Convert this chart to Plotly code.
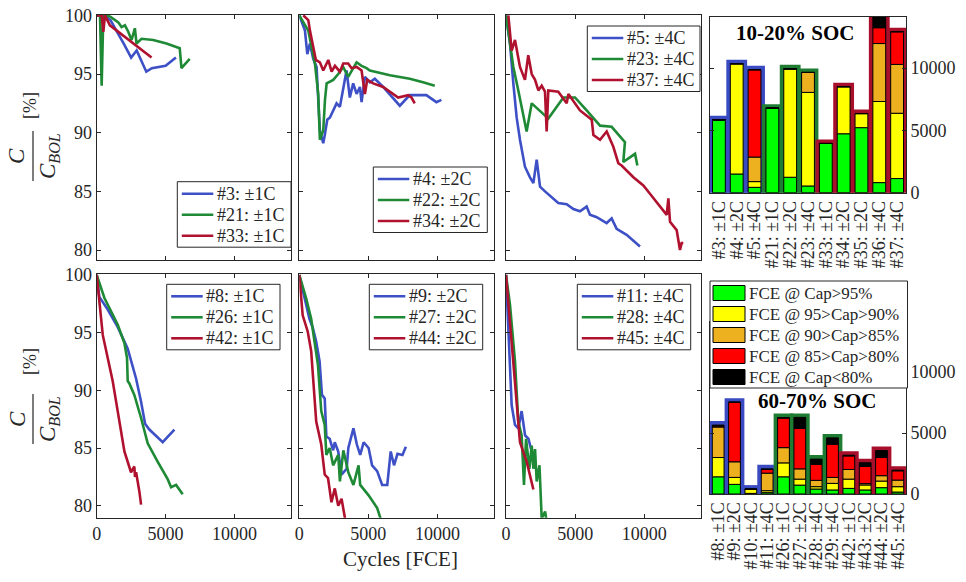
import numpy as np
import plotly.graph_objects as go

FONT = "Liberation Serif"
AX = "#262626"
BLUE, GREEN, RED = "#3D50C6", "#1F8A36", "#B0112E"
BG = {"blue": "#3A4BC2", "green": "#1E7D32", "red": "#A80F2B"}

# ---------------- capacity fade data (cycles [FCE], capacity [%]) ----------------
c3_x = [0, 500, 1000, 1500, 2000, 2500, 2900, 3600, 4000, 5000, 5750]
c3_y = [100, 100, 99.6, 98.6, 97.5, 96.4, 97.0, 95.2, 95.5, 95.7, 96.4]
c21_x = [0, 240, 360, 480, 960, 1570, 1800, 2050, 2290, 2530, 2770, 2890, 3250, 4100, 5060, 6025, 6150, 6750]
c21_y = [100, 100, 94.0, 100, 99.9, 99.4, 99.0, 99.15, 98.6, 97.9, 98.9, 97.6, 98.0, 97.9, 97.6, 97.2, 95.5, 96.3]
c33_x = [0, 360, 480, 600, 960, 1450, 3980]
c33_y = [100, 100, 98.6, 100, 99.15, 98.7, 96.4]

c4_x = [0, 410, 580, 770, 1010, 1250, 1490, 1735, 1860, 2025, 2220, 2460, 2700, 2940, 3180, 3420, 3660, 3900,
        4150, 4390, 4510, 4750, 5110, 5470, 6070, 6800, 7280, 8000, 9200, 9930, 10290]
c4_y = [100, 98.7, 96.7, 97.6, 96.3, 95.6, 90.2, 89.1, 89.9, 91.1, 91.3, 91.9, 92.5, 92.2, 93.9, 95.3, 93.0, 94.2,
        93.3, 93.9, 92.6, 94.75, 94.3, 94.6, 93.9, 92.9, 92.3, 93.2, 93.2, 92.6, 92.8]
c22_x = [0, 650, 1130, 1370, 1490, 1735, 1860, 1980, 2460, 2820, 3180, 3540, 4150, 4510, 4870, 5110, 6560, 8000, 8960, 9810]
c22_y = [100, 98.7, 95.9, 93.3, 89.4, 90.2, 92.8, 94.2, 94.5, 95.0, 95.6, 94.75, 96.0, 95.7, 95.5, 95.3, 94.9, 94.6, 94.3, 94.0]
c34_x = [290, 650, 770, 1010, 1200, 1490, 1735, 2100, 2340, 2580, 2940, 3180, 3540, 3780, 4150, 4510, 4750, 4920,
         5350, 6070, 6560, 7160, 7880, 8120, 8360]
c34_y = [100, 99.6, 98.7, 97.3, 96.2, 96.0, 95.3, 96.2, 95.2, 95.7, 95.2, 95.9, 95.9, 95.5, 95.6, 95.3, 93.3, 94.5,
         94.2, 93.9, 93.5, 93.0, 93.2, 93.0, 92.5]

c5_x = [0, 290, 530, 770, 1010, 1370, 1735, 1980, 2220, 2460, 2820, 3300, 3780, 4390, 4870, 5350, 5830, 6070,
        6560, 7280, 7640, 8000, 8720, 9690]
c5_y = [100, 97.6, 94.2, 91.3, 89.4, 87.1, 86.2, 85.7, 87.7, 85.4, 85.0, 84.5, 84.0, 83.9, 83.5, 83.3, 83.7, 83.0,
        82.8, 82.3, 82.7, 81.8, 81.3, 80.3]
c23_x = [0, 530, 890, 1130, 1490, 1860, 3060, 4150, 4990, 5830, 6800, 7640, 8600, 8480, 9330, 9500]
c23_y = [100, 95.6, 93.6, 92.2, 90.1, 92.5, 91.2, 93.0, 93.0, 91.9, 90.6, 90.5, 89.2, 87.5, 88.2, 87.2]
c37_x = [170, 410, 650, 1010, 1370, 1610, 1860, 2100, 2340, 2580, 2820, 2940, 3060, 3780, 4390, 4510, 5350, 6200,
         6320, 6800, 7280, 7760, 8120, 8360, 9210, 9930, 10410, 11130, 11620, 11740, 11860, 12340, 12580, 12700, 12820]
c37_y = [100, 97.0, 97.9, 95.6, 94.5, 96.6, 95.0, 94.5, 93.6, 94.0, 93.5, 90.1, 93.6, 93.5, 92.5, 93.3, 91.9, 91.1,
         89.8, 89.4, 90.1, 88.8, 87.4, 87.2, 86.2, 85.5, 84.8, 83.7, 83.0, 84.4, 82.4, 81.7, 80.0, 80.6, 80.6]

c8_x = [0, 190, 800, 1520, 2250, 2860, 3220, 3510, 3820, 4790, 5640]
c8_y = [100, 98.1, 97.0, 95.5, 93.6, 91.0, 89.0, 87.1, 86.6, 85.5, 86.6]
c26_x = [0, 560, 1520, 2010, 2200, 2250, 2370, 2490, 2730, 3220, 3700, 4430, 5150, 5400, 5760, 6240]
c26_y = [100, 98.0, 95.7, 94.1, 92.8, 90.8, 90.6, 90.3, 89.6, 87.6, 85.4, 83.8, 82.3, 81.6, 81.8, 81.0]
c42_x = [0, 440, 1160, 1520, 2010, 2490, 2730, 2780, 2860, 3100, 3220]
c42_y = [100, 94.8, 90.8, 88.2, 84.7, 82.9, 83.4, 82.5, 82.9, 81.2, 80.1]

c9_x = [0, 370, 735, 980, 1225, 1470, 1640, 1840, 1960, 2200, 2450, 2570, 2820, 3060, 3430, 3550, 3920, 4170,
        4410, 4660, 5020, 5270, 5640, 6000, 6370, 6620, 6860, 7110, 7470, 7720]
c9_y = [100, 98.0, 96.2, 95.4, 94.2, 92.5, 89.6, 89.3, 86.0, 85.8, 84.8, 85.5, 84.7, 82.7, 83.2, 85.0, 86.7, 85.3,
        84.4, 85.5, 85.0, 83.5, 83.0, 81.8, 81.8, 84.7, 83.5, 84.5, 84.4, 85.1]
c27_x = [0, 490, 860, 1100, 1350, 1590, 1840, 1960, 2200, 2450, 2820, 2940, 3190, 3550, 3920, 4290, 4410, 5020, 5640, 5880]
c27_y = [100, 98.0, 96.2, 94.2, 92.2, 88.2, 87.0, 84.4, 85.0, 83.5, 84.4, 82.1, 84.8, 82.9, 81.8, 83.5, 81.8, 80.9, 79.8, 78.9]
c44_x = [0, 245, 610, 860, 1225, 1590, 1840, 2080, 2330, 2570, 2820, 3060, 3310]
c44_y = [100, 96.5, 95.1, 93.4, 87.3, 85.3, 82.7, 82.4, 80.3, 81.5, 80.0, 80.6, 78.9]

c11_x = [0, 170, 410, 650, 890, 1130, 1380, 1620, 1860, 2100]
c11_y = [100, 94.8, 88.7, 87.0, 86.7, 88.2, 86.1, 85.8, 84.7, 84.4]
c28_x = [0, 290, 650, 890, 1130, 1300, 1450, 1690, 1860, 1980, 2100, 2220, 2420, 2580, 2830, 2900]
c28_y = [100, 97.4, 92.5, 87.3, 86.1, 81.8, 85.8, 83.2, 85.2, 83.2, 84.9, 82.1, 83.5, 78.9, 79.5, 78.9]
c45_x = [0, 290, 650, 1010, 1500, 1980]
c45_y = [100, 96.0, 90.8, 85.5, 83.8, 81.4]

# ---------------- FCE bar data ----------------
seg_names = ["FCE @ Cap>95%", "FCE @ 95>Cap>90%", "FCE @ 90>Cap>85%", "FCE @ 85>Cap>80%", "FCE @ Cap<80%"]
seg_colors = ["#00FF00", "#FFFF00", "#EDB120", "#FF0000", "#000000"]

top_labels = ["#3: ±1C", "#4: ±2C", "#5: ±4C", "#21: ±1C", "#22: ±2C", "#23: ±4C",
              "#33: ±1C", "#34: ±2C", "#35: ±2C", "#36: ±4C", "#37: ±4C"]
top_groups = ["blue", "blue", "blue", "green", "green", "green", "red", "red", "red", "red", "red"]
top_green = [5850, 1500, 430, 6780, 1240, 540, 3950, 4730, 5220, 810, 1135]
top_yellow = [0, 8850, 460, 0, 8700, 7510, 0, 3780, 1130, 6510, 5240]
top_orange = [0, 0, 1970, 0, 0, 1600, 0, 0, 0, 4650, 3920]
top_red = [0, 0, 7000, 0, 0, 0, 0, 0, 0, 1270, 2620]
top_black = [0, 0, 0, 0, 0, 0, 0, 0, 0, 1000, 0]

bot_labels = ["#8: ±1C", "#9: ±2C", "#10: ±4C", "#11: ±4C", "#26: ±1C", "#27: ±2C",
              "#28: ±4C", "#29: ±4C", "#42: ±1C", "#43: ±2C", "#44: ±2C", "#45: ±4C"]
bot_groups = ["blue"] * 4 + ["green"] * 4 + ["red"] * 4
bot_green = [1410, 790, 50, 110, 1410, 730, 410, 330, 460, 330, 520, 160]
bot_yellow = [1580, 570, 350, 160, 1140, 490, 190, 540, 760, 410, 540, 440]
bot_orange = [2500, 1280, 0, 1440, 1250, 840, 520, 490, 790, 110, 440, 540]
bot_red = [80, 4890, 0, 300, 2420, 3320, 1300, 2720, 1110, 1410, 1490, 760]
bot_black = [80, 0, 0, 50, 50, 900, 440, 520, 60, 300, 570, 50]

cap_ticks = [80, 85, 90, 95, 100]
cyc_ticks = [0, 5000, 10000]
fce_ticks = [0, 5000, 10000]

panels = [
    [("#3: ±1C", c3_x, c3_y, BLUE), ("#21: ±1C", c21_x, c21_y, GREEN), ("#33: ±1C", c33_x, c33_y, RED)],
    [("#4: ±2C", c4_x, c4_y, BLUE), ("#22: ±2C", c22_x, c22_y, GREEN), ("#34: ±2C", c34_x, c34_y, RED)],
    [("#5: ±4C", c5_x, c5_y, BLUE), ("#23: ±4C", c23_x, c23_y, GREEN), ("#37: ±4C", c37_x, c37_y, RED)],
    [("#8: ±1C", c8_x, c8_y, BLUE), ("#26: ±1C", c26_x, c26_y, GREEN), ("#42: ±1C", c42_x, c42_y, RED)],
    [("#9: ±2C", c9_x, c9_y, BLUE), ("#27: ±2C", c27_x, c27_y, GREEN), ("#44: ±2C", c44_x, c44_y, RED)],
    [("#11: ±4C", c11_x, c11_y, BLUE), ("#28: ±4C", c28_x, c28_y, GREEN), ("#45: ±4C", c45_x, c45_y, RED)],
]

fig = go.Figure()

for k, series in enumerate(panels, start=1):
    for name, xs, ys, col in series:
        fig.add_trace(go.Scatter(x=xs, y=ys, mode="lines", name=name, showlegend=False,
                                 line=dict(color=col, width=2.6),
                                 xaxis=f"x{k}", yaxis=f"y{k}"))

def add_bars(ax, labels, groups, segs):
    segs = [np.array(s, dtype=float) for s in segs]
    total = np.sum(segs, axis=0)
    for g in ["blue", "green", "red"]:
        idx = [i for i, gg in enumerate(groups) if gg == g]
        fig.add_trace(go.Bar(x=[labels[i] for i in idx], y=[total[i] for i in idx],
                             width=0.72, marker=dict(color=BG[g], line=dict(color=BG[g], width=8)),
                             showlegend=False, cliponaxis=False, hoverinfo="skip",
                             xaxis=f"x{ax}", yaxis=f"y{ax}"))
    base = np.zeros(len(labels))
    for s, name, col in zip(segs, seg_names, seg_colors):
        fig.add_trace(go.Bar(x=labels, y=s, base=base.copy(), name=name, width=0.72,
                             marker=dict(color=col, line=dict(color="#000000", width=1)),
                             showlegend=False, cliponaxis=False,
                             xaxis=f"x{ax}", yaxis=f"y{ax}"))
        base = base + s

add_bars(7, top_labels, top_groups, [top_green, top_yellow, top_orange, top_red, top_black])
add_bars(8, bot_labels, bot_groups, [bot_green, bot_yellow, bot_orange, bot_red, bot_black])

# body margin is removed by the post script, so the figure fills the window
W, H = 966, 582
def px(v): return v / W
def py(v): return 1 - v / H

col_dom = [(px(96.7), px(291)), (px(299.3), px(494)), (px(506), px(701))]
row_dom = [(py(260), py(15)), (py(517.7), py(274))]
yranges = [[79.15, 100.03], [78.96, 100.08]]

tickfont = dict(family=FONT, size=18, color=AX)
layout = dict(width=W, height=H, margin=dict(l=0, r=0, t=0, b=0), template="none",
              paper_bgcolor="white", plot_bgcolor="white", barmode="overlay",
              font=dict(family=FONT, size=18, color=AX), showlegend=False)

for k in range(1, 7):
    r = (k - 1) // 3
    c = (k - 1) % 3
    layout[f"xaxis{k}"] = dict(domain=col_dom[c], anchor=f"y{k}", range=[0, 14100],
                               tickvals=cyc_ticks, ticktext=[str(t) for t in cyc_ticks],
                               ticks="inside", ticklen=4, tickcolor=AX,
                               showline=True, linecolor=AX, linewidth=1, mirror="ticks",
                               showgrid=False, zeroline=False, showticklabels=(r == 1),
                               tickfont=tickfont, automargin=False, ticklabeloverflow="allow")
    layout[f"yaxis{k}"] = dict(domain=row_dom[r], anchor=f"x{k}", range=yranges[r],
                               tickvals=cap_ticks, ticktext=[str(t) for t in cap_ticks],
                               ticks="inside", ticklen=4, tickcolor=AX,
                               showline=True, linecolor=AX, linewidth=1, mirror="ticks",
                               showgrid=False, zeroline=False, showticklabels=(c == 0),
                               tickfont=tickfont, automargin=False, ticklabeloverflow="allow")

bar_doms = {7: (py(192.7), py(17)), 8: (py(494), py(322))}
for k, labels in [(7, top_labels), (8, bot_labels)]:
    layout[f"xaxis{k}"] = dict(domain=(px(710), px(906)), anchor=f"y{k}", type="category",
                               range=[-0.5, len(labels) - 0.5], tickangle=-90, ticks="",
                               tickmode="array", tickvals=labels, ticktext=labels,
                               showline=True, linecolor=AX, linewidth=1, mirror=True,
                               showgrid=False, zeroline=False, ticklabeloverflow="allow",
                               tickfont=dict(family=FONT, size=18, color=AX), automargin=False)
    layout[f"yaxis{k}"] = dict(domain=bar_doms[k], anchor=f"x{k}", side="right", range=[0, 14100],
                               tickvals=fce_ticks, ticktext=[str(t) for t in fce_ticks],
                               ticks="inside", ticklen=4, tickcolor=AX,
                               showline=True, linecolor=AX, linewidth=1, mirror="ticks",
                               showgrid=False, zeroline=False, tickfont=tickfont, automargin=False,
                               ticklabeloverflow="allow")

fig.update_layout(**layout)

ann = []
shapes = []
def add_text(text, x, y, size, angle=0, bold=False, xanchor="center", color=AX):
    ann.append(dict(text=(f"<b>{text}</b>" if bold else text), x=px(x), y=py(y), xref="paper", yref="paper",
                    showarrow=False, textangle=angle, xanchor=xanchor, yanchor="middle",
                    font=dict(family=FONT, size=size, color=color)))

def rect(x0, x1, y0, y1, fill, line_col, lw=1):
    shapes.append(dict(type="rect", xref="paper", yref="paper", x0=px(x0), x1=px(x1),
                       y0=py(y1), y1=py(y0), fillcolor=fill, line=dict(color=line_col, width=lw),
                       layer="above"))

add_text("10-20% SOC", 795, 33, 21, bold=True, color="#000000")
add_text("60-70% SOC", 817, 401, 21, bold=True, color="#000000")
add_text("Cycles [FCE]", 400, 559, 21)

# y-axis label: C / C_BOL [%]
for cy, py_pct in [(156, 106), (419, 362)]:
    add_text("<i>C</i>", 17, cy, 23, angle=-90)
    add_text("<i>C<sub>BOL</sub></i>", 49, cy, 23, angle=-90)
    add_text("[%]", 30, py_pct, 18, angle=-90)
    shapes.append(dict(type="line", xref="paper", yref="paper", x0=px(33), x1=px(33),
                       y0=py(cy - 25), y1=py(cy + 25), line=dict(color=AX, width=1.2)))

# per-panel legends (box, line samples, labels) in MATLAB style
leg_box = {1: (177.3, 291, 181.7), 2: (373.3, 487.3, 167), 3: (587.3, 700, 26),
           4: (166.7, 280, 284.3), 5: (369.3, 482.7, 284.3), 6: (577.3, 690.7, 284.3)}
for k, series in enumerate(panels, start=1):
    x0, x1, y0 = leg_box[k]
    rect(x0, x1, y0, y0 + 65.5, "white", AX)
    for i, (name, xs, ys, col) in enumerate(series):
        yc = y0 + 12 + 21 * i
        shapes.append(dict(type="line", xref="paper", yref="paper", x0=px(x0 + 4.5), x1=px(x0 + 36),
                           y0=py(yc), y1=py(yc), line=dict(color=col, width=2.6), layer="above"))
        add_text(name, x0 + 37.5, yc, 18, xanchor="left")

# legend of the stacked FCE bars (box, colour swatches, labels)
rect(710, 907.5, 281, 388, "white", AX)
for i, (name, col) in enumerate(zip(seg_names, seg_colors)):
    yc = 293 + i * 21
    rect(713, 745, yc - 7.5, yc + 7.5, col, "#000000")
    add_text(name, 747, yc, 17, xanchor="left")

fig.update_layout(annotations=ann, shapes=shapes)
fig.write_html("out.html", config={"displayModeBar": False},
               post_script="document.body.style.margin='0';document.body.style.overflow='hidden';")
